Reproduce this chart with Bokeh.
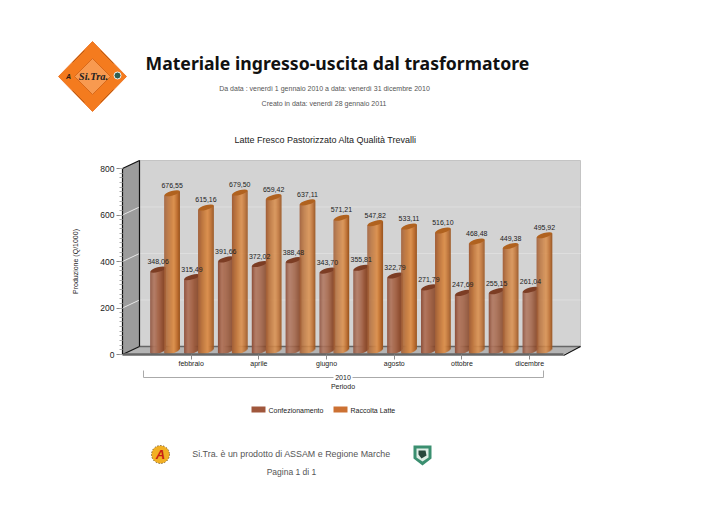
import numpy as np
from bokeh.plotting import figure
from bokeh.models import FixedTicker
from bokeh.embed import file_html
from bokeh.resources import INLINE

# ---- data -------------------------------------------------------------
months = ["gennaio", "febbraio", "marzo", "aprile", "maggio", "giugno", "luglio",
          "agosto", "settembre", "ottobre", "novembre", "dicembre"]
confezionamento = [348.06, 315.49, 391.66, 372.02, 388.48, 343.70,
                   355.81, 322.79, 271.79, 247.69, 255.15, 261.04]
raccolta = [676.55, 615.16, 679.50, 659.42, 637.11, 571.21,
            547.82, 533.11, 516.10, 468.48, 449.38, 495.92]
y_ticks = [0, 200, 400, 600, 800]

# ---- page <-> data scale ----------------------------------------------
W, H = 707, 504
PX_CAT = 33.85        # pixels per month
PX_VAL = 0.2325       # pixels per unit
X0, Y0 = 156.8, 354   # page position of month 1 / value 0
def X(px): return (np.asarray(px, dtype=float) - X0) / PX_CAT + 1
def Y(py): return (Y0 - np.asarray(py, dtype=float)) / PX_VAL

p = figure(width=W, height=H, output_backend="svg", toolbar_location=None,
           x_range=(float(X(0)), float(X(W))), y_range=(float(Y(H)), float(Y(0))),
           min_border=0, min_border_left=0, min_border_right=0, min_border_top=0, min_border_bottom=0)
p.grid.visible = False
p.outline_line_color = None
p.background_fill_color = "white"

def poly(pts, color, line=None, lw=1):
    xs, ys = zip(*pts)
    p.patch(list(X(xs)), list(Y(ys)), fill_color=color, line_color=line, line_width=lw)
def seg(xs, ys, color, lw=1):
    p.line(list(X(xs)), list(Y(ys)), line_color=color, line_width=lw)
def txt(x, y, s, size, color="#222222", font="Liberation Sans", align="center", style="normal", angle=0):
    p.text(x=[float(X(x))], y=[float(Y(y))], text=[s], text_font={"value": font},
           text_font_size=f"{size}px", text_color=color, text_align=align,
           text_baseline="middle", text_font_style=style, angle=angle)

# ---- 3D room ----------------------------------------------------------
poly([(139, 160), (580, 160), (580, 346), (139, 346)], "#d3d3d3", "#c4c4c4")
poly([(122, 168), (139, 160), (139, 346), (122, 354)], "#9c9c9c")
poly([(122, 354), (139, 346), (580, 346), (563, 354)], "#b4b4b4")
for v in y_ticks[1:-1]:
    yb = 346 - v * PX_VAL
    seg([139, 580], [yb, yb], "#dedede")
    seg([122, 139], [yb + 8, yb], "#e6e6e6")
seg([139, 580], [346, 346], "#666666", 1.5)
seg([122, 139, 139], [168, 160, 346], "#111111", 1.2)
seg([122, 139], [354, 346], "#111111", 1.2)
seg([563, 580], [355, 346], "#111111", 1.2)

# ---- cylinders --------------------------------------------------------
def ramp(stops, t):
    pos = [s[0] for s in stops]
    cols = [[int(s[1][i:i + 2], 16) for i in (1, 3, 5)] for s in stops]
    return "#%02x%02x%02x" % tuple(int(round(np.interp(t, pos, [c[k] for c in cols]))) for k in range(3))

brown_stops = [(0, "#8c4f3a"), (.25, "#b27860"), (.55, "#a5664a"), (.85, "#8d4c2e"), (1, "#7d3f24")]
orange_stops = [(0, "#a05e38"), (.25, "#bd7640"), (.62, "#dc9250"), (.85, "#bd6e30"), (1, "#98531e")]
cats = np.arange(1, 13)
BAR_W = 15.5
STRIPS = 16
DX, DY = 7.8, 4.0   # depth offset (pixels)
SLOPE = 0.27
EH = 3.0

def cylinder(values, off, stops, top_col):
    vals = np.array(values)
    xc = cats + (DX + off) / PX_CAT
    for i in range(STRIPS):
        t = (i + .5) / STRIPS
        u = 2 * t - 1
        dpx = u * BAR_W / 2
        lift = SLOPE * dpx
        curve = EH * np.sqrt(1 - u * u)
        p.vbar(x=xc + dpx / PX_CAT, width=(BAR_W / STRIPS + .25) / PX_CAT,
               bottom=(DY + lift - curve) / PX_VAL, top=vals + (DY + lift) / PX_VAL,
               fill_color=ramp(stops, t), line_color=None)
    p.ellipse(x=xc, y=vals + DY / PX_VAL, width=BAR_W + .4, height=4.6, width_units="screen",
              height_units="screen", angle=0.27, fill_color=top_col, line_color=None)

def bar_labels(values, off):
    vals = np.array(values)
    xc = cats + (DX + off) / PX_CAT
    p.text(x=xc, y=vals + (DY + 8) / PX_VAL, text=[f"{v:.2f}".replace(".", ",") for v in vals],
           text_font={"value": "Liberation Sans"}, text_font_size="7px", text_color="#222222",
           text_align="center", text_baseline="middle")

cylinder(confezionamento, -7, brown_stops, "#7c3d24")
cylinder(raccolta, 7, orange_stops, "#b0621f")
bar_labels(confezionamento, -7)
bar_labels(raccolta, 7)

# ---- axes -------------------------------------------------------------
ya = p.yaxis[0]
ya.fixed_location = float(X(122))
ya.bounds = (0, 800)
ya.ticker = FixedTicker(ticks=y_ticks, minor_ticks=list(np.arange(0, 801, 20)))
ya.major_tick_out, ya.major_tick_in = 6, 0
ya.minor_tick_out, ya.minor_tick_in = 3, 0
ya.major_tick_line_color = "#888888"
ya.minor_tick_line_color = "#aaaaaa"
ya.axis_line_color = "#111111"
ya.axis_line_width = 1.2
ya.major_label_standoff = 2
ya.major_label_text_font = "Liberation Sans"
ya.major_label_text_font_size = "8.5px"
ya.major_label_text_color = "#222222"
ya.axis_label = "Produzione (Q/1000)"
ya.axis_label_text_font = "Liberation Sans"
ya.axis_label_text_font_size = "7px"
ya.axis_label_text_font_style = "normal"
ya.axis_label_text_color = "#222222"
ya.axis_label_standoff = 18

xa = p.xaxis[0]
xa.fixed_location = 0
xa.bounds = (float(X(122)), float(X(563)))
ticks2 = [i + 1 for i in range(1, 12, 2)]
xa.ticker = FixedTicker(ticks=ticks2)
xa.major_label_overrides = {i: months[i - 1] for i in ticks2}
xa.major_tick_out, xa.major_tick_in = 5, 0
xa.minor_tick_out = 0
xa.major_tick_line_color = "#888888"
xa.axis_line_color = "#666666"
xa.axis_line_width = 2.6
xa.major_label_standoff = 0
xa.major_label_text_font = "Liberation Sans"
xa.major_label_text_font_size = "7px"
xa.major_label_text_color = "#222222"
xa.axis_label = "Periodo"
xa.axis_label_text_font = "Liberation Sans"
xa.axis_label_text_font_size = "7px"
xa.axis_label_text_font_style = "normal"
xa.axis_label_text_color = "#222222"
xa.axis_label_standoff = 13

# bracket of the year
seg([143, 143, 333], [370, 377, 377], "#aaaaaa")
seg([352, 543, 543], [377, 377, 370], "#aaaaaa")
txt(342.5, 377, "2010", 7)

# legend
poly([(251, 406), (265, 406), (265, 412), (251, 412)], "#a0573c")
txt(268, 410, "Confezionamento", 7, align="left")
poly([(333, 406), (347, 406), (347, 412), (333, 412)], "#cc7133")
txt(350, 410, "Raccolta Latte", 7, align="left")

# ---- page texts -------------------------------------------------------
txt(145, 62, "Materiale ingresso-uscita dal trasformatore", 17.65, "#111111", "Noto Sans", "left", "bold")
txt(324, 88, "Da data : venerdì 1 gennaio 2010 a data: venerdì 31 dicembre 2010", 7, "#555555")
txt(323.5, 103, "Creato in data: venerdì 28 gennaio 2011", 7, "#555555")
txt(325, 139, "Latte Fresco Pastorizzato Alta Qualità Trevalli", 9, "#222222")
txt(291, 453, "Si.Tra. è un prodotto di ASSAM e Regione Marche", 8.9, "#555555")
txt(291, 471, "Pagina 1 di 1", 8.5, "#555555")

# ---- logos ------------------------------------------------------------
poly([(92, 41), (126, 76), (92, 111), (58, 76)], "#f47b1e", "#ee7a2a")
poly([(92, 58), (110, 76), (92, 94), (74, 76)], "#f89a50", "#d8691a")
for a, b, c, d in [(72, 62, 84, 50), (100, 50, 113, 63), (72, 90, 84, 102), (100, 102, 113, 89)]:
    seg([a, c], [b, d], "#b85a14", 1)
txt(93, 76, "Si.Tra.", 10.5, "#222222", "Liberation Serif", style="bold italic")
txt(68, 76, "A", 7, "#2a1a10", "Liberation Sans", style="bold italic")
p.circle(x=[float(X(117))], y=[float(Y(75))], radius=3.5, radius_units="screen",
         fill_color="#2f5f50", line_color="#f4f4f0")

p.circle(x=[float(X(160))], y=[float(Y(454))], radius=9, radius_units="screen",
         fill_color="#f2b024", line_color="#553300", line_dash="1 2")
txt(160, 454, "A", 13, "#c81e14", "Liberation Sans", style="bold italic")
poly([(413, 445), (431, 445), (431, 458), (422, 465), (413, 458)], "#3b8f70")
poly([(416, 448), (428, 448), (428, 457), (422, 461), (416, 457)], "#dfeee6")
poly([(418, 450), (425, 450), (426, 455), (421, 458), (418, 454)], "#28483c")

open("out.html", "w").write(file_html(p, INLINE))
